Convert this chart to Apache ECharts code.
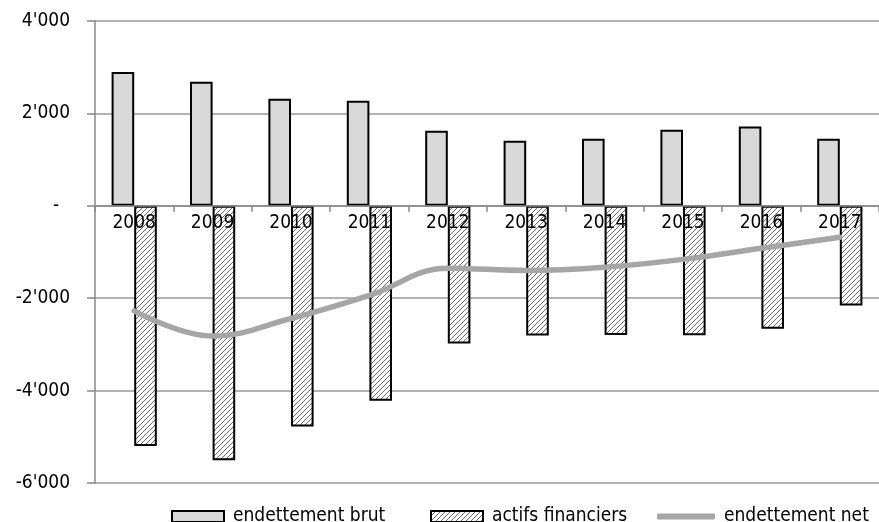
<!DOCTYPE html>
<html>
<head>
<meta charset="utf-8">
<script src="https://cdn.jsdelivr.net/npm/echarts@6/dist/echarts.min.js"></script>
<style>
  html, body { margin: 0; padding: 0; background: #fff; }
  #chart { width: 879px; height: 522px; }
</style>
</head>
<body>
<div id="chart"></div>
<script>
// data
var years = ['2008', '2009', '2010', '2011', '2012', '2013', '2014', '2015', '2016', '2017'];
var grossDebt = [2895, 2685, 2316, 2273, 1623, 1406, 1450, 1645, 1716, 1450];
var financialAssets = [-5200, -5510, -4775, -4220, -2980, -2810, -2795, -2800, -2660, -2160];
var netDebt = [-2275, -2820, -2440, -1940, -1350, -1400, -1330, -1160, -920, -680];

var FONT = "'DejaVu Sans Condensed', 'Liberation Sans', sans-serif";

// hatch pattern for the financial assets bars
function makeHatch() {
  var c = document.createElement('canvas');
  c.width = 5; c.height = 5;
  var ctx = c.getContext('2d');
  ctx.fillStyle = '#fff';
  ctx.fillRect(0, 0, 5, 5);
  ctx.strokeStyle = '#6a6a6a';
  ctx.lineWidth = 1;
  ctx.beginPath();
  ctx.moveTo(-1, 6); ctx.lineTo(6, -1);
  ctx.moveTo(-1, 1); ctx.lineTo(1, -1);
  ctx.moveTo(4, 6); ctx.lineTo(6, 4);
  ctx.stroke();
  return c;
}
var hatch = { image: makeHatch(), repeat: 'repeat' };

function fmt(v) {
  if (v === 0) return '-  ';
  var s = String(Math.abs(v)).replace(/\B(?=(\d{3})+(?!\d))/g, "'");
  return (v < 0 ? '-' : '') + s;
}

var chart = echarts.init(document.getElementById('chart'));

var legendText = { fontFamily: FONT, fontSize: 19, color: '#000', padding: [0, 0, 0, 4] };

// grid: top 21, height 462 -> zero line sits 277.2px above the bottom
var gridTop = 21, gridBottom = 39, yMin = -6000, yMax = 4000;
var plotH = 522 - gridTop - gridBottom;
var zeroOffset = plotH * (0 - yMin) / (yMax - yMin);

var option = {
  animation: false,
  grid: { left: 95, right: 0, top: gridTop, bottom: gridBottom, containLabel: false, outerBoundsMode: 'none' },
  legend: [
    { data: ['endettement brut'], icon: 'rect', left: 166, top: 502, itemWidth: 52, itemHeight: 11, textStyle: legendText },
    { data: ['actifs financiers'], icon: 'rect', left: 425, top: 502, itemWidth: 52, itemHeight: 11, textStyle: legendText },
    { data: ['endettement net'], icon: 'roundRect', left: 652, top: 502, itemWidth: 58, itemHeight: 6, textStyle: legendText }
  ],
  xAxis: {
    type: 'category',
    data: years,
    position: 'bottom',
    offset: -zeroOffset,
    axisLine: { onZero: false, lineStyle: { color: '#888', width: 1.5 } },
    axisTick: { show: true, length: 6, inside: false, lineStyle: { color: '#888', width: 1.5 } },
    axisLabel: { fontFamily: FONT, fontSize: 19, color: '#000', margin: 8 },
    z: 10
  },
  yAxis: {
    type: 'value',
    min: yMin, max: yMax, interval: 2000,
    axisLine: { show: true, lineStyle: { color: '#888', width: 1.5 } },
    axisTick: { show: true, length: 8, lineStyle: { color: '#888', width: 1.5 } },
    splitLine: { show: true, lineStyle: { color: '#999', width: 1.5 } },
    axisLabel: { fontFamily: FONT, fontSize: 19, color: '#000', margin: 25, formatter: fmt }
  },
  series: [
    {
      name: 'endettement brut',
      type: 'bar',
      data: grossDebt,
      barWidth: 22.6,
      barGap: '0%',
      itemStyle: { color: '#d9d9d9', borderColor: '#000', borderWidth: 2 },
      z: 2
    },
    {
      name: 'actifs financiers',
      type: 'bar',
      data: financialAssets,
      barWidth: 22.6,
      barGap: '0%',
      itemStyle: { color: hatch, borderColor: '#000', borderWidth: 2 },
      z: 3
    },
    {
      name: 'endettement net',
      type: 'line',
      data: netDebt,
      smooth: 0.4,
      symbol: 'none',
      lineStyle: { color: '#a6a6a6', width: 5.5, cap: 'round' },
      itemStyle: { color: '#a6a6a6' },
      z: 5
    }
  ]
};

chart.setOption(option);
</script>
</body>
</html>
